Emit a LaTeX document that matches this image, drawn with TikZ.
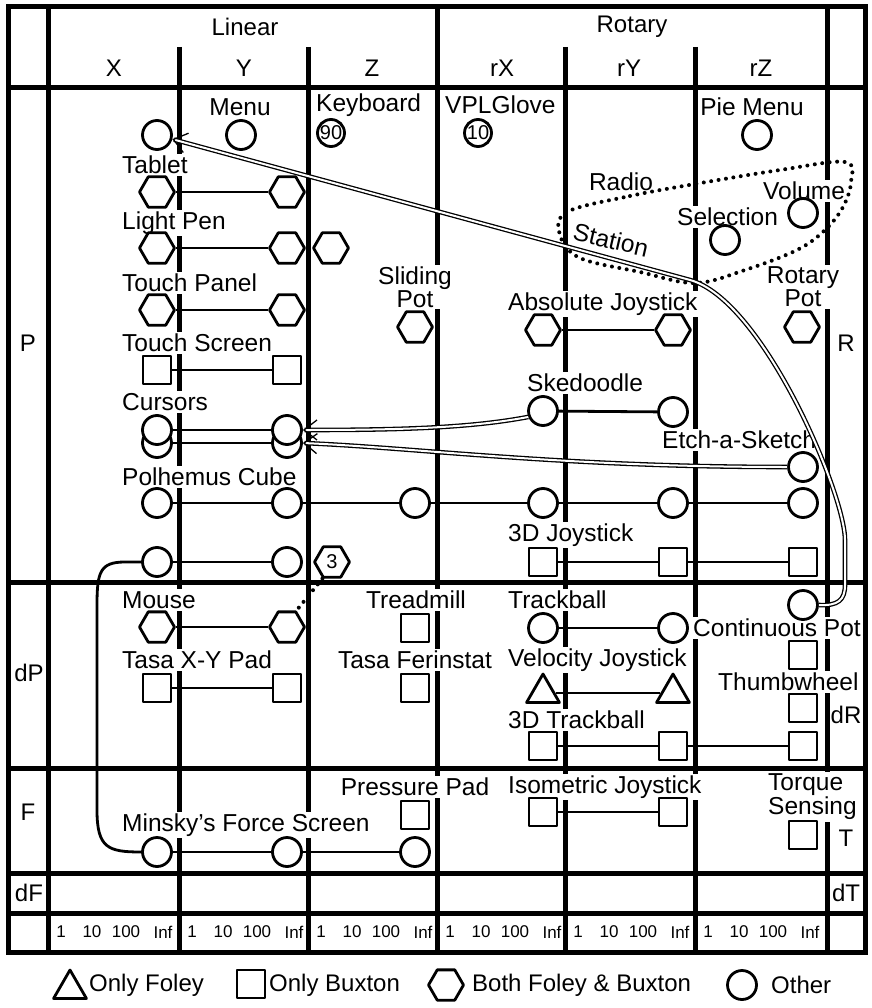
\documentclass[tikz,border=0pt]{standalone}
\usepackage{fontspec}
\setmainfont{Liberation Sans}
\usetikzlibrary{arrows.meta,shapes.geometric}

\newcommand{\devfont}{\fontsize{24.5}{21}\selectfont}
\newcommand{\hdrfont}{\fontsize{24}{26}\selectfont}
\newcommand{\tickfont}{\fontsize{17}{19}\selectfont}
\newcommand{\numfont}{\fontsize{20}{20}\selectfont}

\tikzset{
  gridline/.style={line width=5pt},
  dev/.style={draw, line width=2.8pt, line join=round, fill=white, inner sep=0pt},
  circ/.style={dev, circle, minimum size=29pt},
  sq/.style={dev, rectangle, minimum size=28pt},
  hex/.style={dev, regular polygon, regular polygon sides=6, minimum size=35pt},
  tri/.style={dev, regular polygon, regular polygon sides=3, minimum size=38pt},
  numc/.style={dev, circle, minimum size=27pt, font=\numfont},
  numh/.style={hex, font=\numfont},
  lbl/.style={fill=white, inner sep=2pt, font=\devfont},
  hdr/.style={inner sep=1pt, font=\hdrfont},
  ticklbl/.style={inner sep=0pt, font=\tickfont},
  link/.style={line width=2.8pt},
  dotline/.style={line width=4pt, line cap=round, dash pattern=on 0pt off 7.5pt},
  dbl/.style={double, double distance=2pt, line width=1.3pt,
    -{Straight Barb[length=13pt, width=20pt]}},
}

\begin{document}
\begin{tikzpicture}[x=1pt, y=-1pt]
  \useasboundingbox (0,0) rectangle (871,1008);
  % rules of the table
  \foreach \y in {88,582,768,873,913} \draw[gridline] (8,\y) -- (865,\y);
  \foreach \x in {48,437,827} \draw[gridline] (\x,7) -- (\x,952);
  \foreach \x in {179,308,565,695} \draw[gridline] (\x,47) -- (\x,952);
  % headers
  \node[hdr] (hLin) at (245,27) {Linear};
  \node[hdr] (hRot) at (632,27) {Rotary};
  \foreach \t/\x in {X/114,Y/244,Z/372,rX/502,rY/629,rZ/761}
    \node[hdr] (c\t) at (\x,68) {\t};
  \foreach \t/\x/\y in {P/28/343,dP/29/673,F/28/812,dF/29/893,R/846/343,dR/846/715,T/846/838,dT/846/893}
    \node[hdr] (r\t) at (\x,\y) {\t};
  % scale 1 10 100 Inf under every column
  \foreach \c in {48,179,308,437,565,695}
    \foreach \t/\d in {1/13,10/44,100/78,Inf/115}
      \node[ticklbl] (s\c\t) at (\c+\d,932) {\t};
  % device labels
  \node[lbl] (lMenu) at (240,107) {Menu};
  \node[lbl, anchor=west] (lKbd) at (314,105) {Keyboard};
  \node[lbl, anchor=west] (lGlove) at (443,105) {VPLGlove};
  \node[lbl] (lPie) at (752,107) {Pie Menu};
  \foreach \n/\t/\y in {Tab/Tablet/165, LP/Light Pen/223, TP/Touch Panel/283,
      TS/Touch Screen/343, Cur/Cursors/402, Pol/Polhemus Cube/477,
      Mouse/Mouse/600, TXY/Tasa X-Y Pad/660, Mk/Minsky’s Force Screen/825}
    \node[lbl, anchor=west] (l\n) at (120,\y) {\t};
  \foreach \n/\t/\y in {AJ/Absolute Joystick/304, JT/3D Joystick/535, TB/Trackball/600,
      VJ/Velocity Joystick/660, TK/3D Trackball/720, IJ/Isometric Joystick/787}
    \node[lbl, anchor=west] (l\n) at (506,\y) {\t};
  \node[lbl, anchor=west] (lSk) at (525,383) {Skedoodle};
  \node[lbl, align=center] (lSP) at (415,287) {Sliding\\Pot};
  \node[lbl] (lTread) at (416,600) {Treadmill};
  \node[lbl] (lFer) at (415,660) {Tasa Ferinstat};
  \node[lbl] (lPP) at (415,787) {Pressure Pad};
  \node[lbl] (lRadio) at (621,182) {Radio};
  \node[lbl, inner sep=0pt, rotate=-13] (lStat) at (611,240) {Station};
  \node[lbl, anchor=west] (lVol) at (761,191) {Volume};
  \node[lbl, anchor=west] (lSel) at (675,217) {Selection};
  \node[lbl, align=center] (lRP) at (803,287) {Rotary\\Pot};
  \node[lbl, anchor=west] (lEtch) at (660,440) {Etch-a-Sketch};
  \node[lbl, anchor=west] (lCP) at (691,628) {Continuous Pot};
  \node[lbl, anchor=west] (lTW) at (716,682) {Thumbwheel};
  \node[lbl, anchor=west, align=left] (lTS) at (766,797) {Torque\\Sensing};
  % outer frame
  \draw[gridline] (8,7) rectangle (865,952);
  % P row
  \node[circ] (xmenu) at (157,135) {};
  \node[circ] (menu) at (241,135) {};
  \node[numc] (kbd) at (331,133) {90};
  \node[numc] (glove) at (478,133) {10};
  \node[circ] (pie) at (757,135) {};
  \node[hex] (tab1) at (157,192) {}; \node[hex] (tab2) at (287,192) {};
  \node[hex] (lp1) at (157,248) {}; \node[hex] (lp2) at (287,248) {};
  \node[hex] (lp3) at (331,248) {};
  \node[hex] (tp1) at (157,310) {}; \node[hex] (tp2) at (287,310) {};
  \node[sq] (ts1) at (157,370) {}; \node[sq] (ts2) at (287,370) {};
  \node[circ] (cb1) at (157,443) {}; \node[circ] (ca1) at (157,430) {};
  \node[circ] (cb2) at (287,443) {}; \node[circ] (ca2) at (287,430) {};
  \foreach \i/\x in {1/157,2/287,3/415,4/543,5/673,6/803}
    \node[circ] (ph\i) at (\x,503) {};
  \node[circ] (low1) at (157,562) {}; \node[circ] (low2) at (287,562) {};
  \node[numh] (three) at (332,562) {3};
  \node[hex] (slide) at (415,327) {};
  \node[circ] (vol) at (803,213) {};
  \node[circ] (sel) at (725,240) {};
  \node[hex] (rpot) at (802,327) {};
  \node[hex] (aj1) at (543,330) {}; \node[hex] (aj2) at (673,330) {};
  \node[circ] (sk1) at (543,411) {}; \node[circ] (sk2) at (673,412) {};
  \node[circ] (etch) at (803,467) {};
  \foreach \i/\x in {1/543,2/673,3/803}
    \node[sq] (jt\i) at (\x,562) {};
  % dP row
  \node[hex] (ms1) at (157,627) {}; \node[hex] (ms2) at (287,627) {};
  \node[sq] (txy1) at (157,688) {}; \node[sq] (txy2) at (287,688) {};
  \node[sq] (tread) at (415,628) {};
  \node[sq] (fer) at (415,688) {};
  \node[circ] (tb1) at (543,628) {}; \node[circ] (tb2) at (673,628) {};
  \node[circ] (cpot) at (803,605) {};
  \node[sq] (cpsq) at (803,655) {};
  \node[sq] (thumb) at (803,708) {};
  \node[tri] (vj1) at (543,693) {}; \node[tri] (vj2) at (673,693) {};
  \foreach \i/\x in {1/543,2/673,3/803}
    \node[sq] (tk\i) at (\x,746) {};
  % F row
  \node[sq] (pp) at (415,815) {};
  \foreach \i/\x in {1/157,2/287,3/415}
    \node[circ] (mk\i) at (\x,852) {};
  \node[sq] (iso1) at (543,812) {}; \node[sq] (iso2) at (673,812) {};
  \node[sq] (torq) at (803,835) {};
  % connectors
  \foreach \a/\b in {tab1/tab2,lp1/lp2,tp1/tp2,ts1/ts2,ca1/ca2,cb1/cb2,low1/low2,
      aj1/aj2,sk1/sk2,ms1/ms2,txy1/txy2,tb1/tb2,vj1/vj2,iso1/iso2,
      ph1/ph2,ph2/ph3,ph3/ph4,ph4/ph5,ph5/ph6,jt1/jt2,jt2/jt3,tk1/tk2,tk2/tk3,mk1/mk2,mk2/mk3}
    \draw[link] (\a) -- (\b);
  \draw[link] (low1.west) -- (125,562) .. controls (100,562) and (97,572) .. (97,605)
    -- (97,810) .. controls (97,848) and (108,852) .. (mk1.west);
  \draw[dotline] (three.240) -- (ms2.60);
  % radio station region
  \draw[dotline] plot[smooth cycle, tension=0.6] coordinates {(567,212) (630,196)
    (695,184) (780,170) (845,162) (851,182) (843,207) (825,230) (797,250) (745,270)
    (695,283) (640,272) (580,258) (560,235)};
  % composition arrows
  \draw[dbl] (cpot.east) .. controls (838,606) and (845,600) .. (845,585) -- (845,540)
    .. controls (845,494) and (763,300) .. (690,280) -- (xmenu);
  \draw[dbl] (sk1.202) .. controls (470,428) and (400,430) .. (ca2.east);
  \draw[dbl] (etch.west) .. controls (560,467) and (420,448) .. (cb2.east);
  % legend
  \node[tri] (kF) at (70,989) {};
  \node[hdr, anchor=west] (kFt) at (88,985) {Only Foley};
  \node[sq] (kB) at (251,984) {};
  \node[hdr, anchor=west] (kBt) at (268,985) {Only Buxton};
  \node[hex] (kFB) at (446,985) {};
  \node[hdr, anchor=west] (kFBt) at (471,985) {Both Foley \& Buxton};
  \node[circ] (kO) at (742,985) {};
  \node[hdr, anchor=west] (kOt) at (770,985) {Other};
\end{tikzpicture}
\end{document}
